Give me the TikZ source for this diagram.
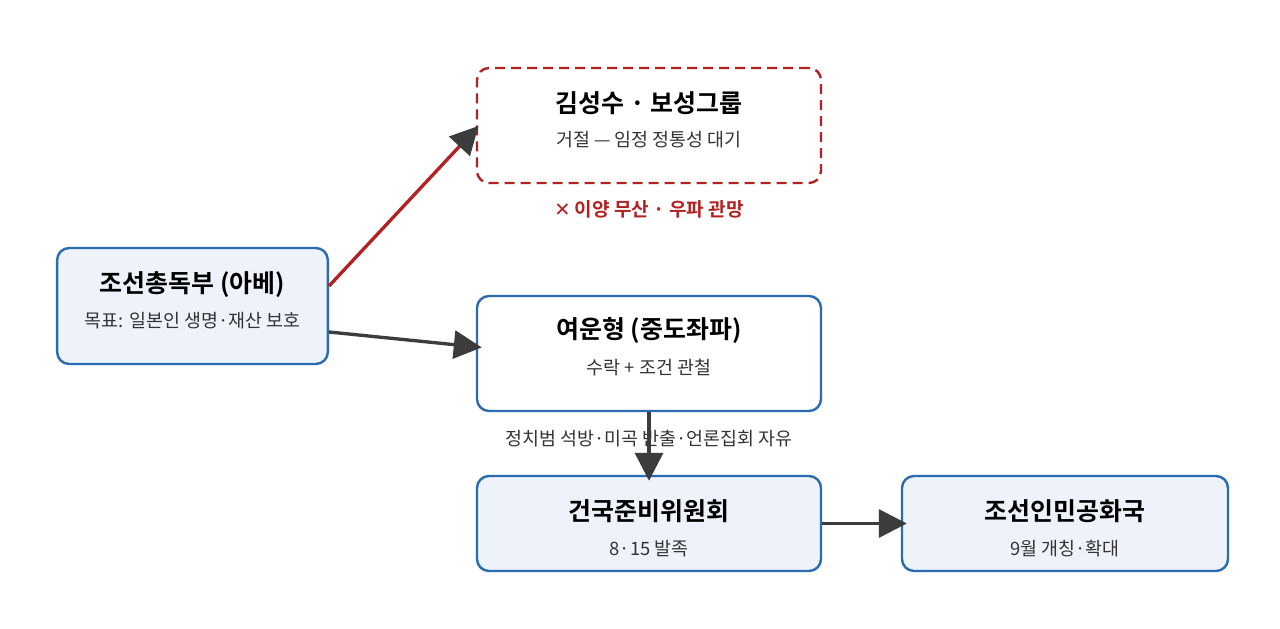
\documentclass[tikz,border=0pt]{standalone}
\usepackage{fontspec}
\setmainfont{Noto Sans CJK KR}[BoldFont={Noto Sans CJK KR Bold}]
\newfontfamily\symfont{DejaVu Sans}
\usetikzlibrary{arrows.meta}
\definecolor{boxblue}{HTML}{2B6CB0}
\definecolor{boxfill}{HTML}{EEF3FB}
\definecolor{rejred}{HTML}{B22222}
\definecolor{arrgray}{HTML}{3C3C3C}

\begin{document}
\begin{tikzpicture}[x=0.75pt,y=-0.75pt,
    box/.style={draw=boxblue,line width=1.8pt,rounded corners=9pt,inner sep=0pt},
    ttl/.style={font=\bfseries\fontsize{18.7}{22}\selectfont,text=black},
    sub/.style={font=\fontsize{13.8}{16}\selectfont,text=black!80},
    arr/.style={draw=arrgray,line width=2.5pt,shorten >=-4.5pt,
      -{Triangle[length=21pt,width=21pt,color=arrgray]}}]
  \useasboundingbox[fill=white] (0,0) rectangle (1280,628);

  % boxes
  \node[box,fill=boxfill,minimum width=203pt,minimum height=87pt] (gov) at (192.5,306) {};
  \node[ttl] (govT) at ([yshift=16pt]gov.center) {조선총독부 (아베)};
  \node[sub] (govS) at ([yshift=-11pt]gov.center) {목표: 일본인 생명·재산 보호};

  \node[box,draw=rejred,dash pattern=on 7.5pt off 4.5pt,fill=white,
    minimum width=258pt,minimum height=86.25pt] (kim) at (649,125.5) {};
  \node[ttl] (kimT) at ([yshift=17pt]kim.center) {김성수 · 보성그룹};
  \node[sub] (kimS) at ([yshift=-10.5pt]kim.center) {거절 — 임정 정통성 대기};
  \node[font=\bfseries\fontsize{14.3}{16}\selectfont,text=rejred] (kimN) at (649,209)
    {{\symfont\fontsize{14.5}{16}\selectfont ✕} 이양 무산 · 우파 관망};

  \node[box,fill=white,minimum width=258pt,minimum height=86.25pt] (yeo) at (649,353.5) {};
  \node[ttl] (yeoT) at ([yshift=17pt]yeo.center) {여운형 (중도좌파)};
  \node[sub] (yeoS) at ([yshift=-10.5pt]yeo.center) {수락 + 조건 관철};

  \node[box,fill=boxfill,minimum width=258pt,minimum height=71.25pt] (gun) at (649,523.5) {};
  \node[ttl] (gunT) at ([yshift=9pt]gun.center) {건국준비위원회};
  \node[sub] (gunS) at ([yshift=-18.5pt]gun.center) {8·15 발족};

  \node[box,fill=boxfill,minimum width=244.5pt,minimum height=71.25pt] (inm) at (1065,523.5) {};
  \node[ttl] (inmT) at ([yshift=9pt]inm.center) {조선인민공화국};
  \node[sub] (inmS) at ([yshift=-18.5pt]inm.center) {9월 개칭·확대};

  % connectors
  \draw[arr,draw=rejred,shorten >=-3pt] ([yshift=15pt]gov.east) -- ([yshift=-2.5pt]kim.west);
  \draw[arr] ([yshift=-19.5pt]gov.east) -- ([yshift=5pt]yeo.west);
  \path (yeo.south) -- node[sub,pos=0.42] (yeoL) {정치범 석방·미곡 반출·언론집회 자유} (gun.north);
  \draw[arr] (yeo.south) -- (gun.north);
  \draw[arr] (gun) -- (inm);
\end{tikzpicture}
\end{document}
